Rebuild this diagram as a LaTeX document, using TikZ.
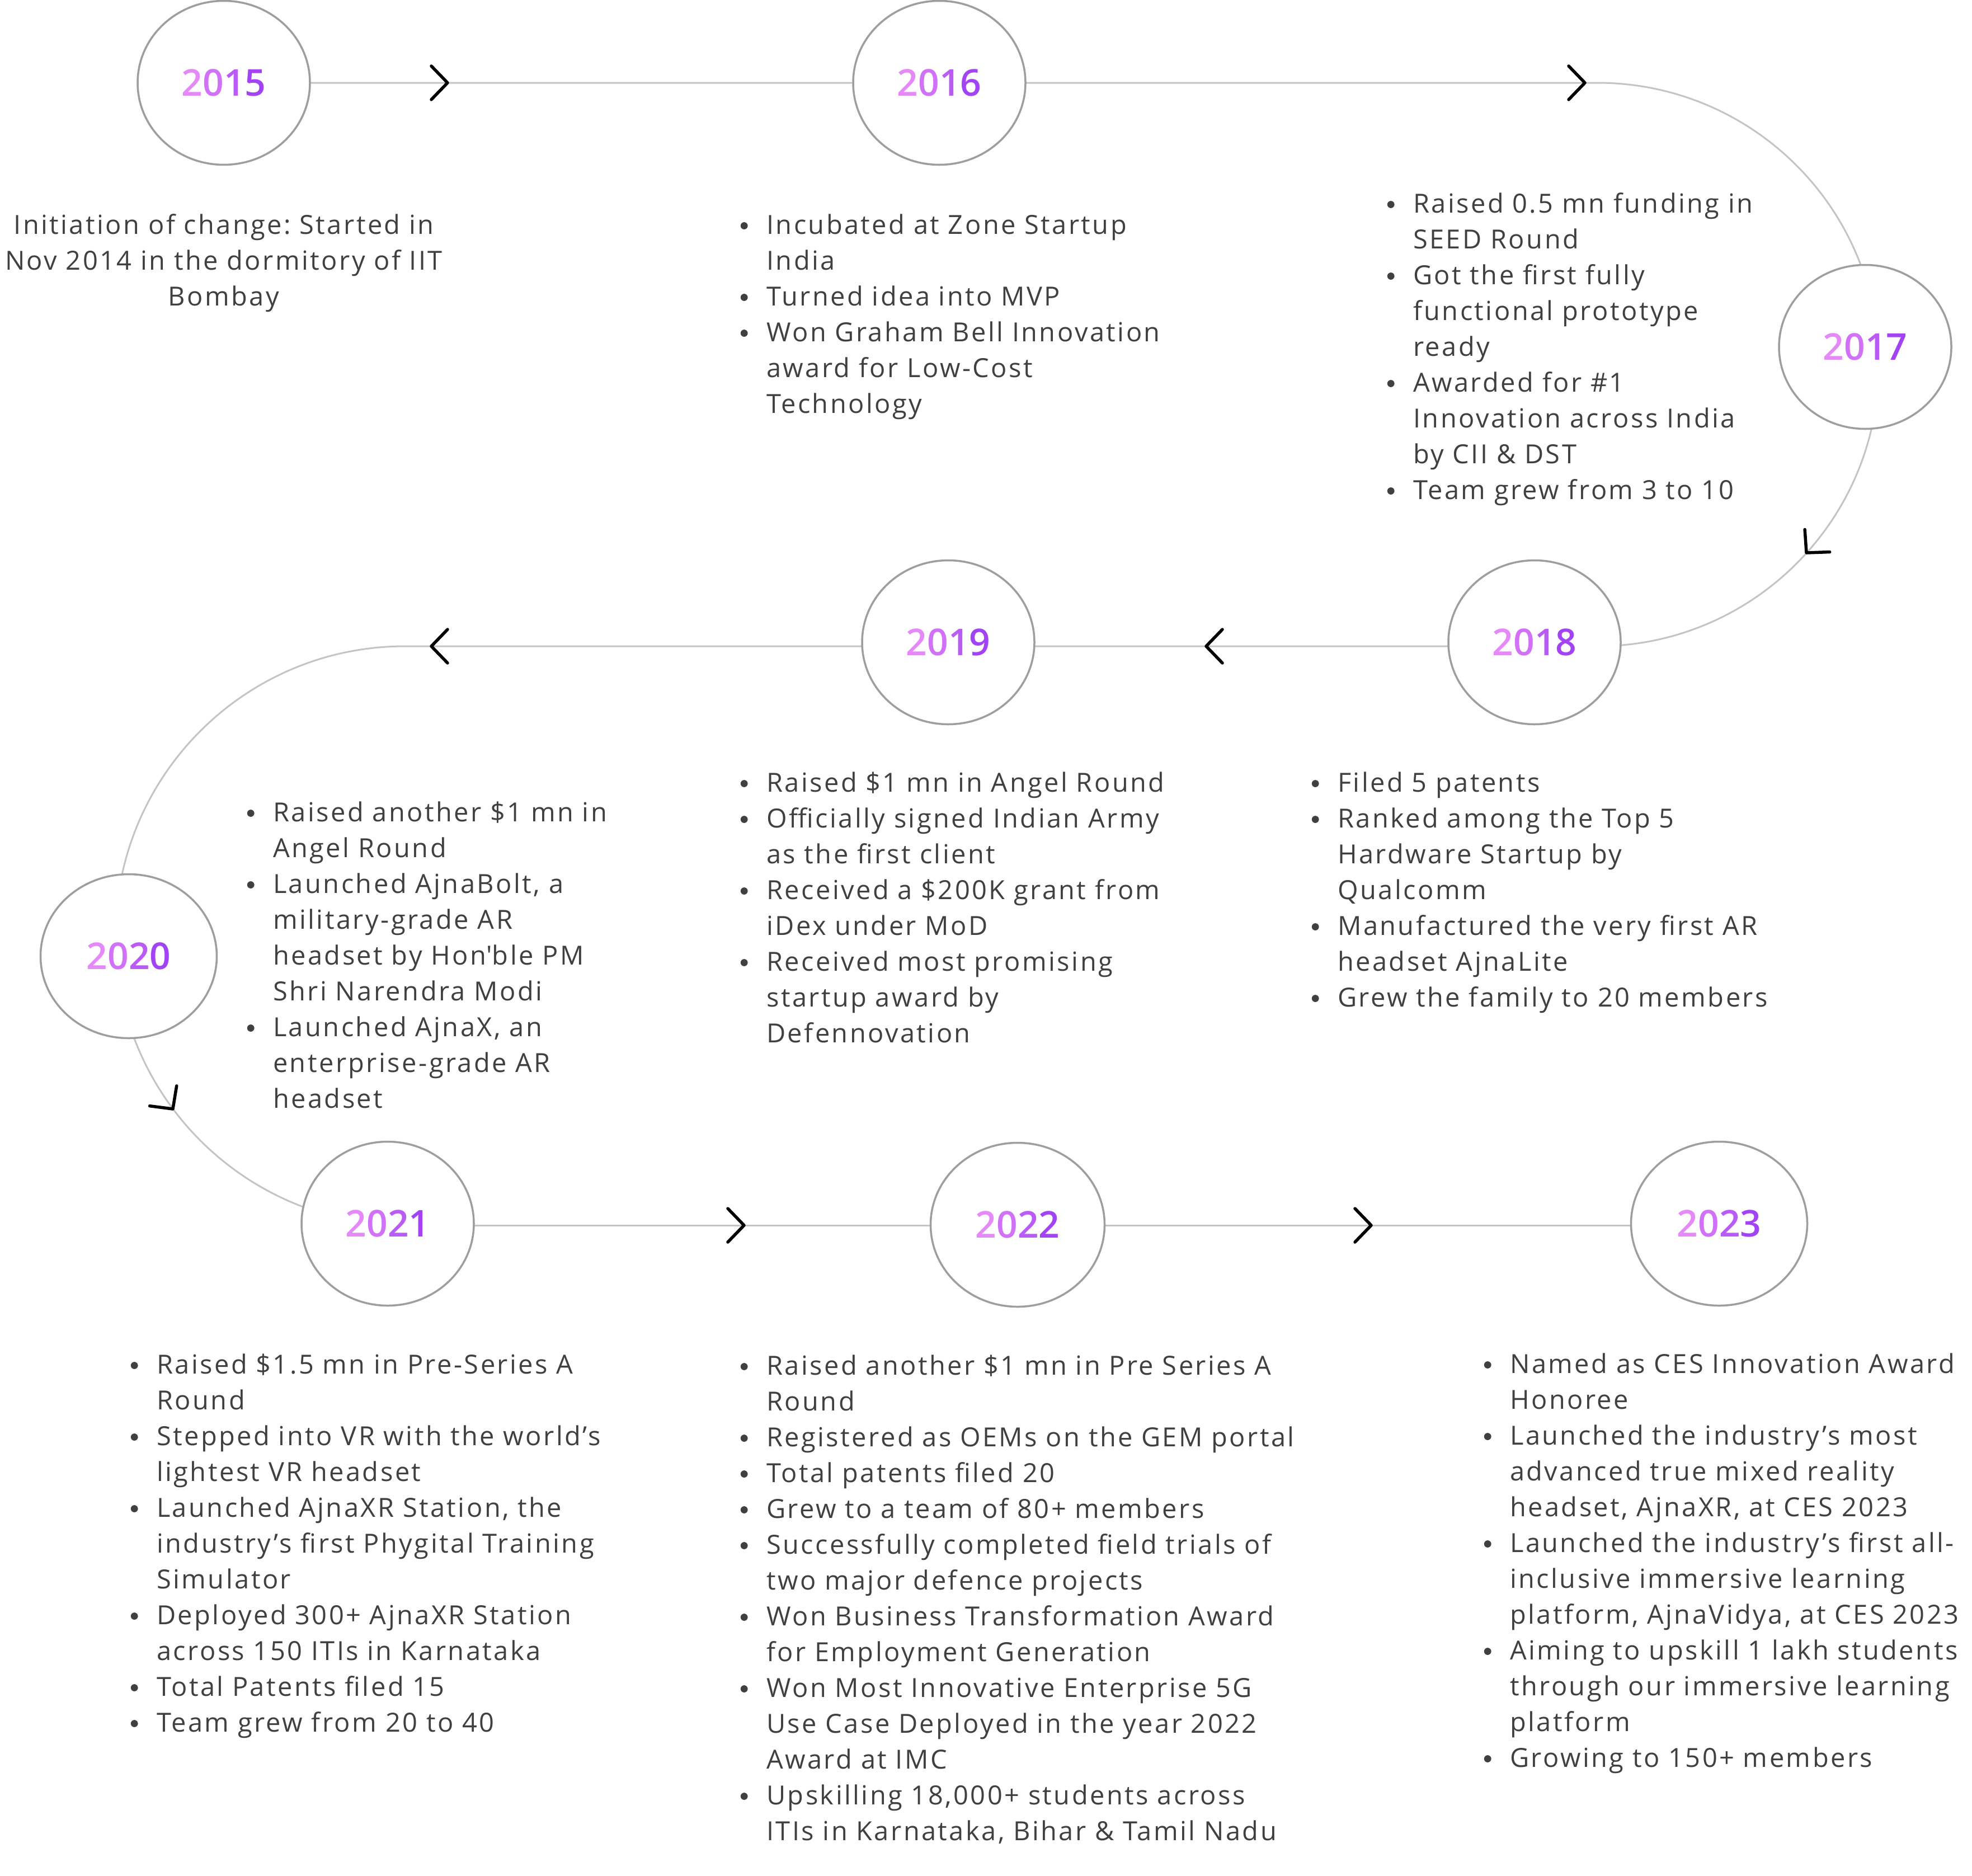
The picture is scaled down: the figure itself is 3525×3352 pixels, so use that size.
\documentclass[tikz,border=0pt]{standalone}
\usepackage{fontspec}
\setmainfont{Open Sans}[LetterSpace=7.3]
\newcommand{\yearsel}{}
\IfFontExistsTF{Open Sans SemiBold}
  {\newfontfamily\yearfam{Open Sans SemiBold}[LetterSpace=4]\renewcommand{\yearsel}{\yearfam}}
  {\IfFontExistsTF{Open Sans Semibold}
    {\newfontfamily\yearfam{Open Sans Semibold}[LetterSpace=4]\renewcommand{\yearsel}{\yearfam}}
    {\IfFontExistsTF{OpenSans-SemiBold}
      {\newfontfamily\yearfam{OpenSans-SemiBold}[LetterSpace=4]\renewcommand{\yearsel}{\yearfam}}
      {\IfFontExistsTF{Noto Sans SemiBold}
        {\newfontfamily\yearfam{Noto Sans SemiBold}[LetterSpace=4]\renewcommand{\yearsel}{\yearfam}}
        {\newfontfamily\yearfam{Open Sans}[LetterSpace=4]\renewcommand{\yearsel}{\yearfam\bfseries}}}}}
\usetikzlibrary{shapes.geometric}
\pgfdeclarelayer{bg}
\pgfsetlayers{bg,main}
\definecolor{txt}{HTML}{404040}
\definecolor{ln}{HTML}{C4C4C4}
\definecolor{ring}{HTML}{9E9E9E}
\definecolor{ya}{HTML}{E689F8}
\definecolor{yb}{HTML}{D071F7}
\definecolor{yc}{HTML}{BA5AF7}
\definecolor{yd}{HTML}{A243F6}
\newcommand{\yr}[4]{\textcolor{ya}{#1}\textcolor{yb}{#2}\textcolor{yc}{#3}\textcolor{yd}{#4}}
\newcommand{\bul}{\makebox[40pt][l]{\makebox[0pt][c]{\tikz[baseline=0pt]\fill[txt] (0pt,14.5pt) circle[radius=6.4pt];}}}
\newcommand{\chevat}[3]{\draw[chevron, shift={(#1,#2)}, rotate=#3] (-29,30) -- (0,0) -- (-29,-30);}
\tikzset{
  yearnode/.style={ellipse, draw=ring, line width=3.5pt, fill=white, inner sep=0pt,
    minimum width=308pt, minimum height=293pt,
    font=\fontsize{66}{66}\selectfont\yearsel},
  conn/.style={draw=ln, line width=3pt},
  chevron/.style={draw=black, line width=5.5pt, line cap=round, line join=round},
  blist/.style={anchor=base west, inner sep=0pt, text=txt,
    font=\fontsize{47}{64}\selectfont\frenchspacing},
}
\begin{document}
\begin{tikzpicture}[x=1pt,y=1pt]
\useasboundingbox (0,0) rectangle (3525,-3352);

% year circles
\node[yearnode] (c2015) at (400,-148) {\yr2015};
\node[yearnode] (c2016) at (1679,-148) {\yr2016};
\node[yearnode] (c2017) at (3334,-620) {\yr2017};
\node[yearnode] (c2018) at (2743,-1148) {\yr2018};
\node[yearnode] (c2019) at (1695,-1148) {\yr2019};
\node[yearnode, minimum width=315pt] (c2020) at (230,-1709) {\yr2020};
\node[yearnode] (c2021) at (693,-2187) {\yr2021};
\node[yearnode, minimum width=311pt] (c2022) at (1819,-2189) {\yr2022};
\node[yearnode, minimum width=315pt] (c2023) at (3073,-2187) {\yr2023};

% connector path (behind the circles)
\coordinate (r1end) at (2855,-148);
\coordinate (r2start) at (2855,-1155);
\coordinate (l2end) at (724,-1155);
\coordinate (l3start) at (724,-2190);
\begin{pgfonlayer}{bg}
\fill[white] (0,0) rectangle (3525,-3352);
\draw[conn] (c2015) -- (c2016) -- (r1end)
  arc[start angle=90, end angle=-90, radius=503.5];
\draw[conn] (r2start) -- (c2018 |- r2start) -- (c2019 |- r2start) -- (l2end)
  arc[start angle=90, end angle=270, radius=517.5];
\draw[conn] (l3start) -- (c2021 |- l3start) -- (c2022 |- l3start) -- (c2023 |- l3start);
\end{pgfonlayer}

% chevrons
\chevat{800}{-148}{0}
\chevat{2833}{-148}{0}
\chevat{3229}{-988}{-132}
\chevat{2156}{-1155}{180}
\chevat{771}{-1155}{180}
\chevat{309}{-1982}{306.7}
\chevat{1330}{-2190}{0}
\chevat{2451}{-2190}{0}

% texts
\node[blist, anchor=base] (t2015) at (400,-418) {\begin{tabular}[t]{@{}c@{}}
Initiation of change: Started in\\
Nov 2014 in the dormitory of IIT\\
Bombay\end{tabular}};

\node[blist] (t2016) at (1330,-418) {\begin{tabular}[t]{@{}l@{}l@{}}
\bul & Incubated at Zone Startup\\
 & India\\
\bul & Turned idea into MVP\\
\bul & Won Graham Bell Innovation\\
 & award for Low-Cost\\
 & Technology\end{tabular}};

\node[blist] (t2017) at (2486,-380) {\begin{tabular}[t]{@{}l@{}l@{}}
\bul & Raised 0.5 mn funding in\\
 & SEED Round\\
\bul & Got the first fully\\
 & functional prototype\\
 & ready\\
\bul & Awarded for \#1\\
 & Innovation across India\\
 & by CII \& DST\\
\bul & Team grew from 3 to 10\end{tabular}};

\node[blist] (t2018) at (2351,-1415) {\begin{tabular}[t]{@{}l@{}l@{}}
\bul & Filed 5 patents\\
\bul & Ranked among the Top 5\\
 & Hardware Startup by\\
 & Qualcomm\\
\bul & Manufactured the very first AR\\
 & headset AjnaLite\\
\bul & Grew the family to 20 members\end{tabular}};

\node[blist] (t2019) at (1330,-1415) {\begin{tabular}[t]{@{}l@{}l@{}}
\bul & Raised \$1 mn in Angel Round\\
\bul & Officially signed Indian Army\\
 & as the first client\\
\bul & Received a \$200K grant from\\
 & iDex under MoD\\
\bul & Received most promising\\
 & startup award by\\
 & Defennovation\end{tabular}};

\node[blist] (t2020) at (448,-1468) {\begin{tabular}[t]{@{}l@{}l@{}}
\bul & Raised another \$1 mn in\\
 & Angel Round\\
\bul & Launched AjnaBolt, a\\
 & military-grade AR\\
 & headset by Hon\textquotesingle ble PM\\
 & Shri Narendra Modi\\
\bul & Launched AjnaX, an\\
 & enterprise-grade AR\\
 & headset\end{tabular}};

\node[blist] (t2021) at (240,-2455) {\begin{tabular}[t]{@{}l@{}l@{}}
\bul & Raised \$1.5 mn in Pre-Series A\\
 & Round\\
\bul & Stepped into VR with the world’s\\
 & lightest VR headset\\
\bul & Launched AjnaXR Station, the\\
 & industry’s first Phygital Training\\
 & Simulator\\
\bul & Deployed 300+ AjnaXR Station\\
 & across 150 ITIs in Karnataka\\
\bul & Total Patents filed 15\\
\bul & Team grew from 20 to 40\end{tabular}};

\node[blist] (t2022) at (1330,-2457) {\begin{tabular}[t]{@{}l@{}l@{}}
\bul & Raised another \$1 mn in Pre Series A\\
 & Round\\
\bul & Registered as OEMs on the GEM portal\\
\bul & Total patents filed 20\\
\bul & Grew to a team of 80+ members\\
\bul & Successfully completed field trials of\\
 & two major defence projects\\
\bul & Won Business Transformation Award\\
 & for Employment Generation\\
\bul & Won Most Innovative Enterprise 5G\\
 & Use Case Deployed in the year 2022\\
 & Award at IMC\\
\bul & Upskilling 18,000+ students across\\
 & ITIs in Karnataka, Bihar \& Tamil Nadu\end{tabular}};

\node[blist] (t2023) at (2659,-2454) {\begin{tabular}[t]{@{}l@{}l@{}}
\bul & Named as CES Innovation Award\\
 & Honoree\\
\bul & Launched the industry’s most\\
 & advanced true mixed reality\\
 & headset, AjnaXR, at CES 2023\\
\bul & Launched the industry’s first all-\\
 & inclusive immersive learning\\
 & platform, AjnaVidya, at CES 2023\\
\bul & Aiming to upskill 1 lakh students\\
 & through our immersive learning\\
 & platform\\
\bul & Growing to 150+ members\end{tabular}};
\end{tikzpicture}
\end{document}
